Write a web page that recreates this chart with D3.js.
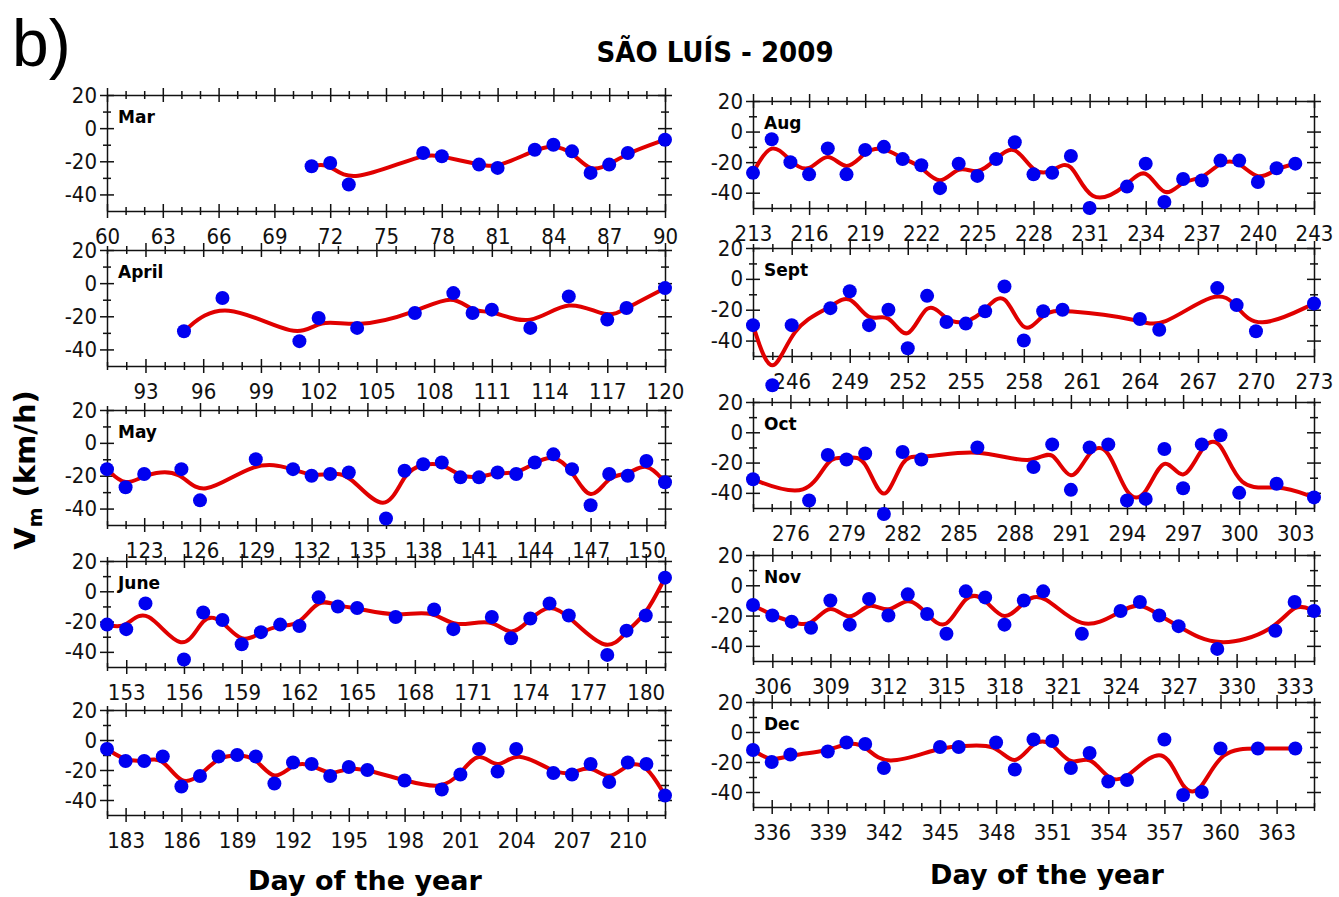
<!DOCTYPE html>
<html>
<head>
<meta charset="utf-8">
<script src="https://cdn.jsdelivr.net/npm/d3@7"></script>
<style>
  body { margin: 0; background: #fff; }
  text { font-family: "DejaVu Sans Condensed", "DejaVu Sans", sans-serif; }
</style>
</head>
<body>
<script>
// month labels and the day-of-year range of each panel
var monthNames = ["Mar", "April", "May", "June", "", "Aug", "Sept", "Oct", "Nov", "Dec"];
var firstDay = [60, 91, 121, 152, 182, 213, 244, 274, 305, 335];
var lastDay  = [90, 120, 151, 181, 212, 243, 273, 304, 334, 365];
var yTicks = [20, 10, 0, -10, -20, -30, -40];

// Vm values (km/h) read per day
var marDays = [71, 72, 73, 77, 78, 80, 81, 83, 84, 85, 86, 87, 88, 90];
var marVm   = [-23, -21, -34, -15, -17, -22, -24, -13, -10, -14, -27, -22, -15, -7];

var aprDays = [95, 97, 101, 102, 104, 107, 109, 110, 111, 113, 115, 117, 118, 120];
var aprVm   = [-29, -9, -35, -21, -27, -18, -6, -18, -16, -27, -8, -22, -15, -3];

var mayDays = [121, 122, 123, 125, 126, 129, 131, 132, 133, 134, 136, 137, 138, 139, 140, 141, 142, 143, 144, 145, 146, 147, 148, 149, 150, 151];
var mayVm   = [-16, -27, -19, -16, -35, -10, -16, -20, -19, -18, -46, -17, -13, -12, -21, -21, -18, -19, -12, -7, -16, -38, -19, -20, -11, -24];

var junDays = [152, 153, 154, 156, 157, 158, 159, 160, 161, 162, 163, 164, 165, 167, 169, 170, 172, 173, 174, 175, 176, 178, 179, 180, 181];
var junVm   = [-22, -25, -8, -45, -14, -19, -35, -27, -22, -23, -4, -10, -11, -17, -12, -25, -17, -31, -18, -8, -16, -42, -26, -16, 9];

var julDays = [182, 183, 184, 185, 186, 187, 188, 189, 190, 191, 192, 193, 194, 195, 196, 198, 200, 201, 202, 203, 204, 206, 207, 208, 209, 210, 211, 212];
var julVm   = [-6, -14, -14, -11, -31, -24, -11, -10, -11, -29, -15, -16, -24, -18, -20, -27, -33, -23, -6, -21, -6, -22, -23, -16, -28, -15, -16, -37];

var augDays = [213, 214, 215, 216, 217, 218, 219, 220, 221, 222, 223, 224, 225, 226, 227, 228, 229, 230, 231, 233, 234, 235, 236, 237, 238, 239, 240, 241, 242];
var augVm   = [-27, -5, -20, -28, -11, -28, -12, -10, -18, -22, -37, -21, -29, -18, -7, -28, -27, -16, -50, -36, -21, -46, -31, -32, -19, -19, -33, -24, -21];

var sepDays = [244, 245, 246, 248, 249, 250, 251, 252, 253, 254, 255, 256, 257, 258, 259, 260, 264, 265, 268, 269, 270, 273];
var sepVm   = [-30, -69, -30, -19, -8, -30, -20, -45, -11, -28, -29, -21, -5, -40, -21, -20, -26, -33, -6, -17, -34, -16];

var octDays = [274, 277, 278, 279, 280, 281, 282, 283, 286, 289, 290, 291, 292, 293, 294, 295, 296, 297, 298, 299, 300, 302, 304];
var octVm   = [-31, -45, -15, -18, -14, -54, -13, -18, -10, -23, -8, -38, -10, -8, -45, -44, -11, -37, -8, -2, -40, -34, -43];

var novDays = [305, 306, 307, 308, 309, 310, 311, 312, 313, 314, 315, 316, 317, 318, 319, 320, 322, 324, 325, 326, 327, 329, 332, 333, 334];
var novVm   = [-13, -20, -24, -28, -10, -26, -9, -20, -6, -19, -32, -4, -8, -26, -10, -4, -32, -17, -11, -20, -27, -42, -30, -11, -17];

var decDays = [335, 336, 337, 339, 340, 341, 342, 345, 346, 348, 349, 350, 351, 352, 353, 354, 355, 357, 358, 359, 360, 362, 364];
var decVm   = [-12, -20, -15, -13, -7, -8, -24, -10, -10, -7, -25, -5, -6, -24, -14, -33, -32, -5, -42, -40, -11, -11, -11];

var allDays = [marDays, aprDays, mayDays, junDays, julDays, augDays, sepDays, octDays, novDays, decDays];
var allVm   = [marVm, aprVm, mayVm, junVm, julVm, augVm, sepVm, octVm, novVm, decVm];

// layout of the panels (pixels)
var width = 1339, height = 897;
var colX = [[107, 665], [753, 1314]];
var panelTop    = [95, 250, 410, 561, 710, 101, 248, 402, 555, 702];
var panelBottom = [211, 366, 525, 667, 815, 208, 356, 508, 661, 807];

var svg = d3.select("body")
    .append("svg")
    .attr("width", width)
    .attr("height", height);

function crossTicks(g, vertical) {
  // ticks cross the axis line, longer on every third day / every 20 km/h
  g.selectAll(".tick line")
      .attr("stroke", "#111")
      .attr("stroke-width", 1.5)
      .each(function(d) {
        var major = vertical ? (d % 20 == 0) : (d % 3 == 0);
        var len = major ? 7 : 4;
        if (vertical) d3.select(this).attr("x1", -len).attr("x2", len);
        else d3.select(this).attr("y1", -len).attr("y2", len);
      });
  g.select(".domain").attr("stroke", "#111").attr("stroke-width", 1.5);
}

function drawPanel(i) {
  var cx = colX[i < 5 ? 0 : 1];
  var y0 = panelTop[i], y1 = panelBottom[i];

  var x = d3.scaleLinear().domain([firstDay[i], lastDay[i]]).range(cx);
  var y = d3.scaleLinear().domain([-50, 20]).range([y1, y0]);
  var days = d3.range(firstDay[i], lastDay[i] + 1);

  var p = svg.append("g").attr("class", "panel");

  // bottom axis with labels every 3 days
  var gb = p.append("g")
      .attr("transform", "translate(0," + y1 + ")")
      .call(d3.axisBottom(x).tickValues(days).tickSizeOuter(0));
  crossTicks(gb, false);
  gb.selectAll(".tick text")
      .text(function(d) { return d % 3 == 0 ? d : ""; })
      .attr("y", 17)
      .attr("font-size", 22)
      .attr("fill", "#111");

  // top axis
  var gt = p.append("g")
      .attr("transform", "translate(0," + y0 + ")")
      .call(d3.axisTop(x).tickValues(days).tickSizeOuter(0).tickFormat(""));
  crossTicks(gt, false);

  // left axis
  var gl = p.append("g")
      .attr("transform", "translate(" + cx[0] + ",0)")
      .call(d3.axisLeft(y).tickValues(yTicks).tickSizeOuter(0));
  crossTicks(gl, true);
  gl.selectAll(".tick text")
      .text(function(d) { return d % 20 == 0 ? d : ""; })
      .attr("x", -10)
      .attr("font-size", 22)
      .attr("fill", "#111");

  // right axis
  var gr = p.append("g")
      .attr("transform", "translate(" + cx[1] + ",0)")
      .call(d3.axisRight(y).tickValues(yTicks).tickSizeOuter(0).tickFormat(""));
  crossTicks(gr, true);

  // month label
  p.append("text")
      .attr("x", cx[0] + 11)
      .attr("y", y0 + 28)
      .attr("font-size", 17)
      .attr("font-weight", "bold")
      .style("font-family", "DejaVu Sans, sans-serif")
      .text(monthNames[i]);

  var pts = allDays[i].map(function(d, k) { return [d, allVm[i][k]]; });

  // smoothed red curve
  var line = d3.line()
      .x(function(d) { return x(d[0]); })
      .y(function(d) { return y(d[1]); })
      .curve(d3.curveBasis);

  p.append("path")
      .datum(pts)
      .attr("d", line)
      .attr("fill", "none")
      .attr("stroke", "#e00000")
      .attr("stroke-width", 4)
      .attr("stroke-linejoin", "round");

  // blue dots
  p.selectAll(".dot")
      .data(pts)
    .enter().append("circle")
      .attr("class", "dot")
      .attr("cx", function(d) { return x(d[0]); })
      .attr("cy", function(d) { return y(d[1]); })
      .attr("r", 7)
      .attr("fill", "#0000f0");
}

for (var i = 0; i < 10; i++) drawPanel(i);

// titles
svg.append("text")
    .attr("x", 12)
    .attr("y", 66)
    .attr("font-size", 66)
    .style("font-family", "Liberation Sans, sans-serif")
    .text("b)");

svg.append("text")
    .attr("x", 715)
    .attr("y", 62)
    .attr("text-anchor", "middle")
    .attr("font-size", 29)
    .attr("font-weight", "bold")
    .text("SÃO LUÍS - 2009");

var ylab = svg.append("text")
    .attr("transform", "translate(35,470) rotate(-90)")
    .attr("text-anchor", "middle")
    .attr("font-size", 29)
    .attr("font-weight", "bold")
    .style("font-family", "DejaVu Sans, sans-serif");
ylab.append("tspan").text("V");
ylab.append("tspan").attr("font-size", 19).attr("dy", 7).text("m");
ylab.append("tspan").attr("dy", -7).text(" (km/h)");

svg.append("text")
    .attr("x", 365)
    .attr("y", 890)
    .attr("text-anchor", "middle")
    .attr("font-size", 27)
    .attr("font-weight", "bold")
    .style("font-family", "DejaVu Sans, sans-serif")
    .text("Day of the year");

svg.append("text")
    .attr("x", 1047)
    .attr("y", 884)
    .attr("text-anchor", "middle")
    .attr("font-size", 27)
    .attr("font-weight", "bold")
    .style("font-family", "DejaVu Sans, sans-serif")
    .text("Day of the year");
</script>
</body>
</html>
